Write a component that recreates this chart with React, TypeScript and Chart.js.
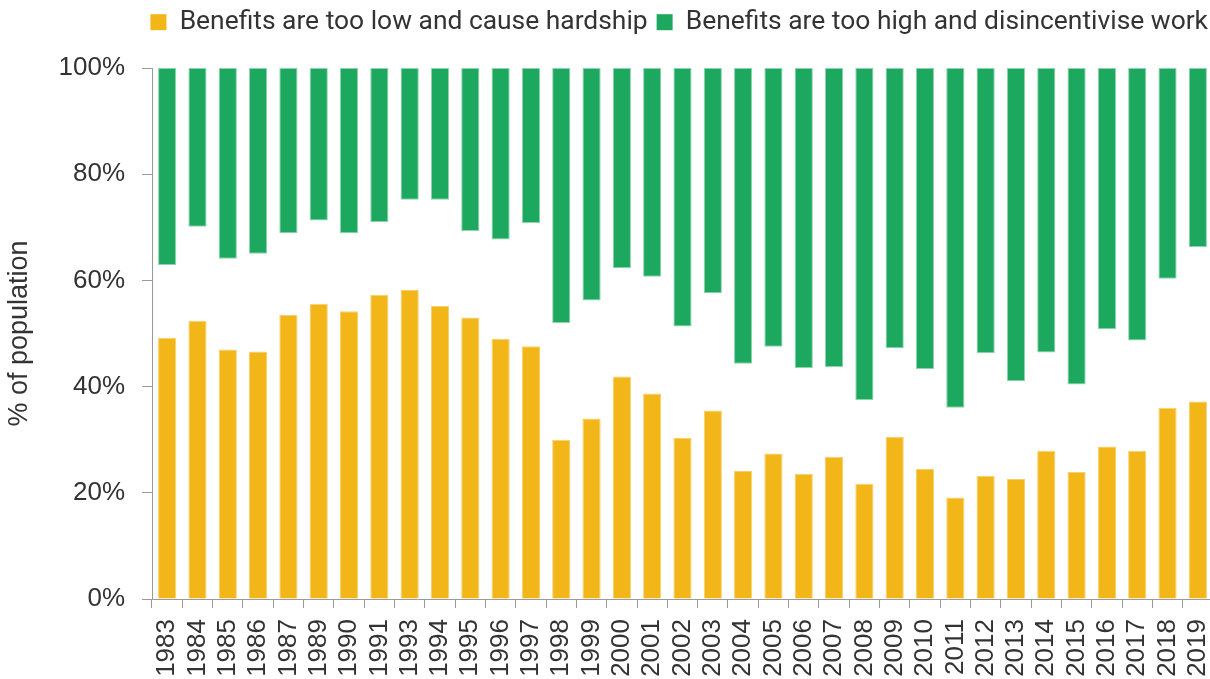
import React, { useEffect, useRef } from "react";
import { Chart, registerables } from "chart.js";

Chart.register(...registerables);

const years = [
  "1983", "1984", "1985", "1986", "1987", "1989", "1990", "1991", "1993", "1994",
  "1995", "1996", "1997", "1998", "1999", "2000", "2001", "2002", "2003", "2004",
  "2005", "2006", "2007", "2008", "2009", "2010", "2011", "2012", "2013", "2014",
  "2015", "2016", "2017", "2018", "2019",
];

// % saying benefits are too low and cause hardship
const tooLow = [
  49.2, 52.4, 47.0, 46.6, 53.5, 55.6, 54.2, 57.3, 58.2, 55.2,
  53.0, 49.0, 47.6, 30.0, 34.0, 41.9, 38.7, 30.3, 35.5, 24.1,
  27.4, 23.6, 26.8, 21.7, 30.5, 24.5, 19.1, 23.2, 22.6, 27.9,
  23.9, 28.7, 27.9, 36.0, 37.2,
];

// % saying benefits are too high and disincentivise work (drawn down from 100%)
const tooHigh = [
  37.1, 29.9, 35.9, 35.0, 31.1, 28.7, 31.1, 29.0, 24.8, 24.8,
  30.7, 32.3, 29.2, 48.0, 43.8, 37.7, 39.3, 48.7, 42.4, 55.7,
  52.5, 56.5, 56.3, 62.5, 52.8, 56.7, 64.0, 53.7, 59.0, 53.6,
  59.6, 49.2, 51.3, 39.7, 33.7,
];

const yTickValues = [0, 20, 40, 60, 80, 100];
const seriesNames = [
  "Benefits are too low and cause hardship",
  "Benefits are too high and disincentivise work",
];

const YELLOW = "#F2B619";
const YELLOW_EDGE = "#F7D06B";
const GREEN = "#1DA85F";
const GREEN_EDGE = "#8ED4AD";
const TEXT = "#333333";
const AXIS = "#9a9a9a";

export default function App() {
  const canvasRef = useRef<HTMLCanvasElement | null>(null);

  useEffect(() => {
    document.body.style.margin = "0";
    document.body.style.overflow = "hidden";
    const canvas = canvasRef.current;
    if (!canvas) return;

    const legendGap = {
      id: "legendGap",
      beforeInit(chart: any) {
        const legend = chart.legend;
        if (!legend) return;
        const origFit = legend.fit;
        legend.fit = function () {
          origFit.call(this);
          this.height = 68;
        };
      },
      afterLayout(chart: any) {
        const legend = chart.legend;
        if (!legend) return;
        legend.left += 4;
        legend.right += 4;
      },
    };

    const chart = new Chart(canvas, {
      type: "bar",
      data: {
        labels: years,
        datasets: [
          {
            label: seriesNames[0],
            data: tooLow.map((v) => [0, v]) as any,
            backgroundColor: YELLOW,
            borderColor: YELLOW_EDGE,
            borderWidth: 1,
            borderSkipped: "start",
            barPercentage: 0.6,
            categoryPercentage: 1,
            grouped: false,
          },
          {
            label: seriesNames[1],
            data: tooHigh.map((v) => [100 - v, 100]) as any,
            backgroundColor: GREEN,
            borderColor: GREEN_EDGE,
            borderWidth: 1,
            borderSkipped: false,
            barPercentage: 0.6,
            categoryPercentage: 1,
            grouped: false,
          },
        ],
      },
      options: {
        animation: false,
        responsive: false,
        maintainAspectRatio: false,
        layout: { padding: 0 },
        plugins: {
          tooltip: { enabled: false },
          legend: {
            position: "top",
            align: "end",
            labels: {
              color: TEXT,
              font: { family: "Roboto, 'Liberation Sans', sans-serif", size: 26.4 },
              boxWidth: 16,
              boxHeight: 16,
              padding: 9,
              generateLabels: (ch: any) =>
                ch.data.datasets.map((ds: any, i: number) => ({
                  text: ds.label,
                  fillStyle: ds.backgroundColor,
                  strokeStyle: ds.backgroundColor,
                  lineWidth: 0,
                  hidden: false,
                  datasetIndex: i,
                  fontColor: TEXT,
                })),
            },
          },
        },
        scales: {
          x: {
            offset: true,
            grid: {
              display: true,
              drawOnChartArea: false,
              drawTicks: true,
              tickLength: 9,
              color: AXIS,
              offset: true,
            },
            border: { display: true, color: AXIS, width: 1 },
            ticks: {
              color: TEXT,
              font: { family: "'Liberation Sans', Arial, sans-serif", size: 26 },
              minRotation: 90,
              maxRotation: 90,
              autoSkip: false,
              padding: 11,
            },
            afterFit: (axis: any) => {
              axis.height = 80;
              axis.paddingLeft = 0;
              axis.paddingRight = 0;
            },
          },
          y: {
            min: 0,
            max: 100,
            afterBuildTicks: (axis: any) => {
              axis.ticks = yTickValues.map((v) => ({ value: v }));
            },
            grid: {
              display: true,
              drawOnChartArea: false,
              drawTicks: true,
              tickLength: 10,
              color: AXIS,
            },
            border: { display: true, color: AXIS, width: 1 },
            ticks: {
              color: TEXT,
              font: { family: "'Liberation Sans', Arial, sans-serif", size: 26 },
              padding: 17,
              callback: (v: any) => `${v}%`,
            },
            title: {
              display: true,
              text: "% of population",
              color: TEXT,
              font: { family: "'Liberation Sans', Arial, sans-serif", size: 27 },
              padding: { top: 3, bottom: 0 },
            },
            afterFit: (axis: any) => {
              axis.width = 152;
              axis.paddingTop = 0;
              axis.paddingBottom = 0;
            },
          },
        },
      },
      plugins: [legendGap],
    });

    return () => {
      chart.destroy();
    };
  }, []);

  return (
    <div style={{ width: 1210, height: 679, position: "relative", overflow: "hidden" }}>
      <canvas ref={canvasRef} width={1213} height={679} style={{ display: "block", width: 1213, height: 679 }} />
    </div>
  );
}
